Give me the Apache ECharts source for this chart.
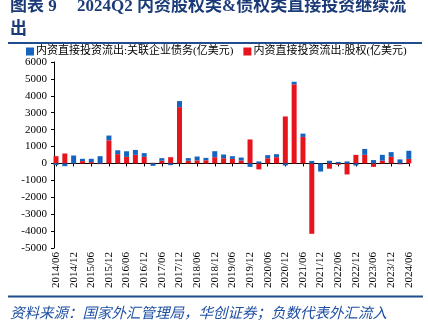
<!DOCTYPE html>
<html>
<head>
<meta charset="utf-8">
<script src="https://cdn.jsdelivr.net/npm/echarts@6/dist/echarts.min.js"></script>
<style>
html,body{margin:0;padding:0;background:#fff;}
#c{width:428px;height:333px;}
</style>
</head>
<body>
<div id="c"></div>
<script>
const categories = [
  "2014/06","2014/09","2014/12","2015/03","2015/06","2015/09","2015/12","2016/03","2016/06","2016/09",
  "2016/12","2017/03","2017/06","2017/09","2017/12","2018/03","2018/06","2018/09","2018/12","2019/03",
  "2019/06","2019/09","2019/12","2020/03","2020/06","2020/09","2020/12","2021/03","2021/06","2021/09",
  "2021/12","2022/03","2022/06","2022/09","2022/12","2023/03","2023/06","2023/09","2023/12","2024/03",
  "2024/06"
];
const equityValues = [
  430, 590, -20, 140, 80, -40, 1370, 550, 390, 510,
  390, 40, 160, 370, 3330, 160, 180, 190, 370, 310,
  270, 170, 1420, -350, 310, 370, 2780, 4680, 1570, -4160,
  0, -310, -80, -650, 510, 510, -200, 160, 390, -50,
  270
];
const debtValues = [
  -100, -160, 470, 135, 195, 430, 280, 230, 330, 290,
  220, -140, 155, -100, 360, 155, 230, 140, 355, 220,
  160, 180, -200, 120, 180, 180, -120, 150, 195, 150,
  -480, 160, 90, 120, -120, 350, 200, 350, 280, 240,
  480
];
const debtName = "内资直接投资流出:关联企业债务(亿美元)";
const equityName = "内资直接投资流出:股权(亿美元)";
const titleLabel = "图表 9";
const titleLine1 = "2024Q2 内资股权类&债权类直接投资继续流";
const titleLine2 = "出";
const sourceText = "资料来源：国家外汇管理局，华创证券；负数代表外汇流入";

const serif = "'Liberation Serif','DejaVu Serif','Noto Sans CJK SC',serif";
const titleFont = "bold 17px 'Liberation Serif','Noto Sans CJK SC',serif";
const navy = "#1b3b78";
const blue = "#1565c0";
const red = "#e8141c";

const chart = echarts.init(document.getElementById('c'), null, {renderer:'canvas'});
chart.setOption({
  animation: false,
  backgroundColor: '#fff',
  graphic: [
    {type:'text', x:10, y:6.5, style:{text:titleLabel, font:titleFont, fill:navy, textVerticalAlign:'middle'}},
    {type:'text', x:77, y:6.5, style:{text:titleLine1, font:titleFont, fill:navy, textVerticalAlign:'middle'}},
    {type:'text', x:10, y:30, style:{text:titleLine2, font:titleFont, fill:navy, textVerticalAlign:'middle'}},
    {type:'rect', shape:{x:8, y:42, width:414, height:2}, style:{fill:'#1f4e8c'}},
    {type:'rect', shape:{x:8, y:295.5, width:415, height:2}, style:{fill:'#1f4e8c'}},
    {type:'text', x:10, y:312, style:{text:sourceText, font:"italic 14.5px 'Noto Sans CJK SC',serif", fill:'#1f4fa3', textVerticalAlign:'middle'}}
  ],
  legend: {
    left: 26, top: 46, padding: 0,
    itemWidth: 8, itemHeight: 8, itemGap: 10,
    icon: 'rect',
    data: [debtName, equityName],
    textStyle: {fontSize: 11, fontFamily: serif, color: '#000', padding:[0,0,0,-3]}
  },
  grid: {left: 56, right: 19.2, top: 62, bottom: 85, containLabel: false},
  xAxis: [
    {
      type: 'category', data: categories, boundaryGap: false, position: 'bottom',
      axisLine: {show: false, onZero: false},
      axisTick: {show: false},
      axisLabel: {interval: 1, rotate: 90, fontSize: 11, fontFamily: serif, color: '#000', margin: 4}
    },
    {
      type: 'category', data: categories, boundaryGap: false, position: 'bottom',
      axisLine: {show: true, onZero: true, lineStyle: {color: '#000', width: 1}},
      axisTick: {show: true, interval: 1, length: 3, lineStyle: {color: '#000'}},
      axisLabel: {show: false}
    }
  ],
  yAxis: {
    type: 'value', min: -5000, max: 6000, interval: 1000, offset: 2,
    axisLine: {show: true, lineStyle: {color: '#000'}},
    axisTick: {show: true, length: 3, lineStyle: {color: '#000'}},
    axisLabel: {fontSize: 11, fontFamily: serif, color: '#000', margin: 7,
                formatter: function (v) { return String(v); }},
    splitLine: {show: false}
  },
  series: [
    {name: equityName, type: 'bar', stack: 'a', data: equityValues, barWidth: 5, clip: false,
     itemStyle: {color: red}},
    {name: debtName, type: 'bar', stack: 'a', data: debtValues, barWidth: 5, clip: false,
     itemStyle: {color: blue}}
  ]
});
</script>
</body>
</html>
